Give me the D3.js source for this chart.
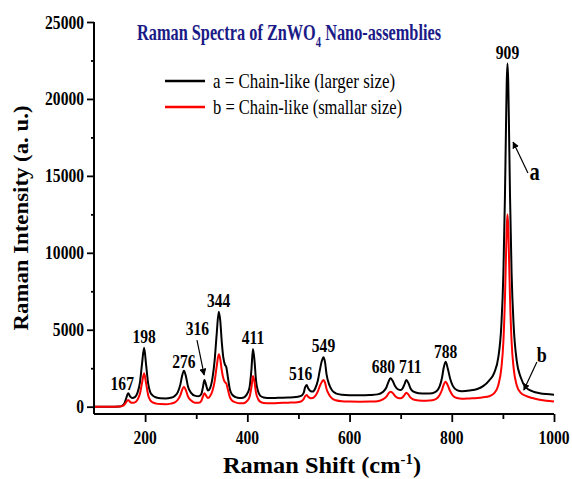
<!DOCTYPE html>
<html>
<head>
<meta charset="utf-8">
<script src="https://cdn.jsdelivr.net/npm/d3@7"></script>
<style>
  html, body { margin: 0; padding: 0; background: #fff; }
  svg { display: block; font-family: "Liberation Serif", "Times New Roman", serif; }
</style>
</head>
<body>
<svg id="chart" width="572" height="479"></svg>
<script>
// Raman shift (cm^-1) sampled along both spectra
const shift = [
  100, 120, 140, 150, 155, 160, 163, 167, 171, 175, 180, 185, 190, 194, 198, 202, 206, 210, 215, 222,
  230, 240, 250, 258, 264, 269, 272, 276, 280, 284, 290, 297, 305, 310, 313, 316, 319, 323, 327, 332,
  336, 340, 344, 347, 350, 353, 356, 359, 362, 366, 370, 377, 385, 393, 398, 404, 408, 411, 414, 417,
  421, 425, 432, 445, 460, 480, 495, 505, 510, 513, 516, 519, 524, 528, 533, 538, 542, 546, 549, 552,
  555, 560, 566, 573, 585, 600, 620, 640, 655, 665, 672, 676, 680, 684, 689, 695, 700, 704, 708, 711,
  715, 719, 725, 735, 750, 762, 770, 776, 781, 784, 788, 792, 797, 802, 810, 820, 835, 850, 862, 873,
  883, 891, 897, 901, 904, 906, 907.5, 909, 910.5, 912, 914, 917, 921, 927, 935, 945, 958, 972, 985, 1000
];

// a = Chain-like (larger size)
const intensityA = [
  0, 0, 0, 10, 60, 250, 550, 870, 650, 560, 620, 900, 1600, 2800, 3830, 2700, 1500, 950, 720, 600,
  550, 540, 580, 700, 950, 1450, 1950, 2340, 1950, 1300, 900, 720, 680, 820, 1250, 1735, 1450, 1050, 1200, 1900,
  3000, 4700, 6170, 5600, 4200, 3200, 2750, 2550, 1900, 1100, 800, 620, 560, 600, 750, 1200, 2400, 3750, 3000, 1700,
  1000, 720, 600, 560, 580, 600, 630, 700, 880, 1250, 1410, 1200, 1000, 980, 1200, 1700, 2400, 3000, 3210, 2900,
  2100, 1450, 1050, 870, 780, 750, 740, 760, 800, 950, 1250, 1600, 1845, 1700, 1350, 1120, 1080, 1200, 1500, 1735,
  1550, 1200, 980, 880, 850, 880, 1000, 1300, 1900, 2500, 2925, 2500, 1800, 1350, 1080, 1000, 1050, 1150, 1350, 1700,
  2200, 3200, 5300, 8700, 13600, 18000, 21050, 22300, 21050, 18000, 13600, 8700, 5300, 3000, 1900, 1250, 1000, 880, 820, 780
];

// b = Chain-like (smallar size)
const intensityB = [
  0, 0, 0, 10, 40, 150, 300, 435, 300, 250, 280, 450, 850, 1550, 2170, 1500, 750, 420, 280, 200,
  170, 160, 200, 280, 450, 750, 1050, 1300, 1050, 650, 400, 260, 250, 380, 650, 870, 740, 560, 680, 1050,
  1650, 2600, 3400, 3100, 2350, 1850, 1600, 1500, 1100, 600, 400, 280, 220, 230, 320, 600, 1250, 2000, 1600, 900,
  500, 330, 240, 220, 240, 260, 280, 340, 480, 680, 760, 640, 550, 560, 700, 1000, 1350, 1620, 1735, 1560,
  1150, 780, 530, 420, 350, 330, 320, 330, 360, 470, 650, 850, 975, 900, 700, 570, 550, 620, 780, 910,
  800, 600, 470, 410, 390, 420, 520, 750, 1100, 1420, 1625, 1400, 1000, 720, 560, 520, 540, 560, 610, 680,
  880, 1400, 2500, 4250, 7000, 9700, 11650, 12500, 11650, 9700, 7000, 4250, 2500, 1400, 900, 700, 560, 450, 380, 330
];

const seriesNames = ["a = Chain-like (larger size)", "b = Chain-like (smallar size)"];
const seriesColors = ["#000000", "#ff0000"];

// Peak positions (cm^-1) that are annotated on the spectrum
const peakPositions = [167, 198, 276, 316, 344, 411, 516, 549, 680, 711, 788, 909];

const xTicks = [200, 400, 600, 800, 1000];
const yTicks = [0, 5000, 10000, 15000, 20000, 25000];

const svg = d3.select("#chart");
svg.append("rect").attr("width", 572).attr("height", 479).attr("fill", "#fff");

const x = d3.scaleLinear().domain([100, 1000]).range([94, 554]);
const y = d3.scaleLinear().domain([-475, 25000]).range([414, 22]);

const SX = 0.82; // glyph width squeeze used by all labels

// text helper: places a label at (px, py) with a horizontal squeeze
function label(parent, px, py, str, opt = {}) {
  const g = parent.append("g")
    .attr("transform", `translate(${px},${py}) rotate(${opt.rotate || 0}) scale(${opt.sx || SX},1)`);
  const t = g.append("text")
    .attr("text-anchor", opt.anchor || "middle")
    .attr("font-size", opt.size || 18)
    .attr("font-weight", opt.weight || "bold")
    .attr("fill", opt.fill || "#000")
    .text(str);
  return { g, t };
}
// squeeze a label group so that its text spans the given width
function fitWidth(lbl, px, py, width, rotate = 0) {
  const w = lbl.t.node().getComputedTextLength();
  lbl.g.attr("transform", `translate(${px},${py}) rotate(${rotate}) scale(${width / w},1)`);
}

// ---- spectra ----
const line = d3.line().x(d => x(d[0])).y(d => y(d[1])).curve(d3.curveMonotoneX);
const plot = svg.append("g");
[intensityA, intensityB].forEach((vals, i) => {
  plot.append("path")
    .datum(shift.map((s, k) => [s, vals[k]]))
    .attr("d", line)
    .attr("fill", "none")
    .attr("stroke", seriesColors[i])
    .attr("stroke-width", 2)
    .attr("stroke-linejoin", "round");
});

// ---- axes ----
const axisG = svg.append("g");
const xAxis = axisG.append("g").attr("transform", `translate(0,${y.range()[0]})`)
  .call(d3.axisBottom(x).tickValues(xTicks).tickSize(8).tickFormat(""));
const xMinor = axisG.append("g").attr("transform", `translate(0,${y.range()[0]})`)
  .call(d3.axisBottom(x).tickValues([300, 500, 700, 900]).tickSize(5).tickFormat(""));
const yAxis = axisG.append("g").attr("transform", `translate(${x.range()[0]},0)`)
  .call(d3.axisLeft(y).tickValues(yTicks).tickSize(7).tickFormat(""));
const yMinor = axisG.append("g").attr("transform", `translate(${x.range()[0]},0)`)
  .call(d3.axisLeft(y).tickValues([2500, 7500, 12500, 17500, 22500]).tickSize(3).tickFormat(""));
axisG.selectAll("path.domain").attr("stroke", "#000").attr("stroke-width", 2);
axisG.selectAll(".tick line").attr("stroke", "#000").attr("stroke-width", 1.8);
// the axes meet at the corner without overhang
xAxis.select("path.domain").attr("d", `M${x.range()[0]},0H${x.range()[1]}`);
xMinor.select("path.domain").remove();
yAxis.select("path.domain").attr("d", `M0,${y.range()[0]}V${y(25000)}`);
yMinor.select("path.domain").remove();

const tickLabels = svg.append("g");
xTicks.forEach(v => label(tickLabels, x(v), 444, String(v), { size: 19 }));
yTicks.forEach(v => label(tickLabels, 84, y(v) + 6.5, String(v), { size: 19, anchor: "end" }));

// ---- axis titles ----
const xt = label(svg, 322, 473, "", { size: 23 });
xt.t.append("tspan").text("Raman Shift (cm");
xt.t.append("tspan").attr("font-size", 14).attr("dy", -9).text("-1");
xt.t.append("tspan").attr("dy", 9).text(")");
fitWidth(xt, 322, 473, 198);

const yt = label(svg, 28, 218, "Raman Intensity (a. u.)", { size: 22, rotate: -90 });
fitWidth(yt, 28, 218, 225, -90);

// ---- title ----
const title = label(svg, 137, 40, "", { size: 23, anchor: "start", fill: "#1b1b87" });
title.t.append("tspan").text("Raman Spectra of ZnWO");
title.t.append("tspan").attr("font-size", 15).attr("dy", 7).text("4");
title.t.append("tspan").attr("dy", -7).text(" Nano-assemblies");
fitWidth(title, 137, 40, 304);

// ---- legend ----
const legend = svg.append("g");
seriesNames.forEach((name, i) => {
  const ly = 81 + i * 26;
  legend.append("line").attr("x1", 165).attr("x2", 205).attr("y1", ly).attr("y2", ly)
    .attr("stroke", seriesColors[i]).attr("stroke-width", 2.5);
  const l = label(legend, 213, ly + 6.5, name, { size: 20, weight: "normal", anchor: "start" });
  fitWidth(l, 213, ly + 6.5, i === 0 ? 182 : 189);
});

// ---- peak labels ----
const labelNudge = { 167: [-6, 3], 276: [0, 3], 316: [-7, 45], 516: [-6, 5], 680: [-7, 5], 711: [4, 7], 788: [0, 4] };
const peaks = svg.append("g");
peakPositions.forEach(p => {
  const k = shift.indexOf(p);
  const [dx, gap] = labelNudge[p] || [0, 5];
  label(peaks, x(p) + dx, y(intensityA[k]) - gap, String(p), { size: 19 });
});

// ---- arrows ----
svg.append("defs").append("marker")
  .attr("id", "head").attr("viewBox", "0 0 10 10").attr("refX", 9).attr("refY", 5)
  .attr("markerWidth", 7).attr("markerHeight", 7).attr("markerUnits", "userSpaceOnUse")
  .attr("orient", "auto")
  .append("path").attr("d", "M0,0L10,5L0,10z").attr("fill", "#000");

const arrows = [
  { from: [301.5, 4330], to: [315.5, 2060] },
  { from: [949, 15190], to: [920, 17200] },
  { from: [966.5, 2905], to: [941, 1085] }
];
arrows.forEach(a => {
  svg.append("line")
    .attr("x1", x(a.from[0])).attr("y1", y(a.from[1]))
    .attr("x2", x(a.to[0])).attr("y2", y(a.to[1]))
    .attr("stroke", "#000").attr("stroke-width", 1.2)
    .attr("marker-end", "url(#head)");
});
label(svg, x(962), y(14700), "a", { size: 25 });
label(svg, x(976), y(2890), "b", { size: 22 });
</script>
</body>
</html>
